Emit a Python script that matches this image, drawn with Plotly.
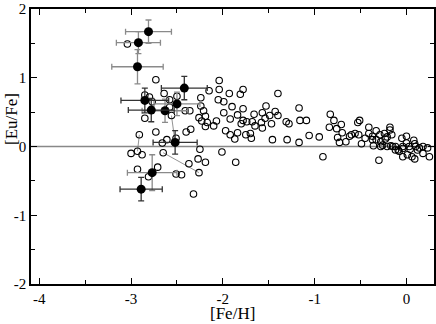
import plotly.graph_objects as go

# open circles: [Fe/H], [Eu/Fe]
open_feh = [
    -3.04, -2.73, -2.85, -2.80, -2.77, -2.85, -2.64, -2.58, -2.50, -2.56,
    -2.58, -2.41, -2.36, -2.73, -2.91, -2.66, -2.61, -2.40, -2.35, -2.15,
    -2.24, -2.24, -2.21, -2.26, -2.19, -2.23, -2.17, -2.19, -2.10, -2.07,
    -2.05, -2.04, -2.04, -2.51, -2.25,
    -3.00, -2.93, -2.88, -2.93, -2.71, -2.81, -2.65, -2.51, -2.45, -2.37,
    -2.26, -2.27, -2.19, -2.32,
    -1.99, -1.99, -1.97, -1.93, -1.92, -1.92, -1.90, -1.87, -1.84, -1.84,
    -1.81, -1.78, -1.80, -1.78, -1.78, -1.75, -1.74, -1.70, -1.69, -1.68,
    -1.66, -1.65, -1.58, -1.57, -1.57, -1.54, -1.53, -1.49, -1.47, -1.46,
    -1.43, -1.40, -1.40, -1.31, -1.30, -1.28, -1.17, -1.17, -1.16, -1.09,
    -1.06, -0.95, -0.91, -0.84, -0.83, -0.79, -0.76, -0.75, -0.73, -0.71,
    -0.70, -0.66, -0.62, -0.60, -0.56, -0.53, -0.51, -0.52, -0.49, -0.45,
    -0.41, -0.41, -0.37, -0.36, -0.33, -0.33, -0.29, -0.28, -0.26, -0.24,
    -0.23, -0.21, -0.18, -0.18, -0.16, -0.15, -0.12, -0.09, -0.05, -0.04,
    0.00, 0.00, 0.03, 0.08, 0.10, 0.14, 0.18, 0.23, -0.21, -0.28,
    -2.01, -1.86, -0.30, -0.04, 0.01, 0.06, 0.09, 0.18, 0.25, -0.04,
    -0.08, 0.04, 0.12, 0.09, -0.17, -0.12, -0.37,
]
open_eufe = [
    1.49, 0.97, 0.75, 0.72, 0.65, 0.41, 0.77, 0.68, 0.73, 0.45,
    0.57, 0.52, 0.52, 0.21, 0.17, 0.05, 0.10, 0.21, 0.25, 0.81,
    0.71, 0.59, 0.52, 0.42, 0.44, 0.37, 0.35, 0.29, 0.30, 0.37,
    0.68, 0.96, 0.83, 0.12, -0.04,
    -0.10, -0.07, -0.12, -0.33, -0.30, -0.44, -0.09, -0.40, -0.41, -0.25,
    -0.38, -0.18, -0.23, -0.69,
    0.65, 0.49, 0.23, 0.77, 0.40, 0.17, 0.58, 0.11, 0.46, 0.20,
    0.76, 0.55, 0.33, 0.83, 0.38, 0.17, 0.36, 0.19, 0.12, 0.36,
    0.47, 0.30, 0.35, 0.27, 0.49, 0.41, 0.59, 0.45, 0.33, 0.10,
    0.51, 0.45, 0.77, 0.36, 0.10, 0.33, 0.06, 0.56, 0.38, 0.38,
    0.16, 0.14, -0.15, 0.28, 0.47, 0.38, 0.26, 0.13, 0.06, 0.32,
    0.20, 0.07, 0.15, 0.17, 0.19, 0.35, 0.38, 0.17, 0.04, 0.12,
    0.28, 0.19, 0.15, 0.01, 0.23, 0.10, 0.17, 0.07, 0.02, 0.19,
    0.11, 0.14, 0.28, 0.24, 0.17, 0.00, 0.00, -0.05, 0.12, 0.00,
    0.15, 0.05, 0.00, 0.09, 0.00, -0.02, 0.00, -0.02, 0.00, 0.00,
    -0.08, -0.23, -0.20, -0.15, -0.12, -0.15, -0.18, -0.10, -0.15, -0.03,
    -0.07, -0.04, -0.05, 0.04, 0.01, -0.05, 0.10,
]

# filled circles with error bars
filled_feh = [-2.81, -2.92, -2.93, -2.42, -2.85, -2.78, -2.63, -2.50, -2.52, -2.77, -2.89]
filled_eufe = [1.67, 1.51, 1.16, 0.85, 0.67, 0.53, 0.52, 0.62, 0.06, -0.38, -0.62]
filled_xerr = [0.25, 0.24, 0.28, 0.25, 0.26, 0.25, 0.25, 0.25, 0.24, 0.27, 0.23]
filled_yerr = [0.17, 0.16, 0.25, 0.17, 0.18, 0.17, 0.17, 0.17, 0.17, 0.26, 0.17]
filled_bar = ["grey", "grey", "grey", "dark", "dark", "dark", "grey", "grey", "dark", "grey", "dark"]

# thin links between paired measurements
link_feh = [(-2.91, -2.93), (-2.65, -2.26), (-2.56, -2.52)]
link_eufe = [(0.17, -0.07), (-0.09, -0.38), (0.45, 0.06)]

x_ticks = [-4, -3, -2, -1, 0]
x_labels = ["-4", "-3", "-2", "-1", "0"]
y_ticks = [-2, -1, 0, 1, 2]
y_labels = ["-2", "-1", "0", "1", "2"]

font = "Liberation Serif"
fig = go.Figure()

for a, b in zip(link_feh, link_eufe):
    fig.add_trace(go.Scatter(x=list(a), y=list(b), mode="lines",
                             line=dict(color="#777", width=0.8), showlegend=False))

fig.add_hline(y=0, line=dict(color="#888", width=1.5), layer="below")

fig.add_trace(go.Scatter(
    x=open_feh, y=open_eufe, mode="markers",
    marker=dict(symbol="circle-open", size=6.5, color="black", line=dict(width=1.1)),
    showlegend=False,
))

bar_colors = {"grey": "#8a8a8a", "dark": "#333"}
for key, col in bar_colors.items():
    idx = [i for i, g in enumerate(filled_bar) if g == key]
    fig.add_trace(go.Scatter(
        x=[filled_feh[i] for i in idx], y=[filled_eufe[i] for i in idx],
        mode="markers",
        marker=dict(size=9, color="black"),
        error_x=dict(type="data", array=[filled_xerr[i] for i in idx],
                     color=col, thickness=1.3, width=3),
        error_y=dict(type="data", array=[filled_yerr[i] for i in idx],
                     color=col, thickness=1.3, width=3),
        showlegend=False,
    ))

axis = dict(showline=True, linecolor="black", linewidth=1.5, mirror="ticks",
            ticks="inside", ticklen=6, tickcolor="black", tickwidth=1,
            showgrid=False, zeroline=False, automargin=False,
            tickfont=dict(family=font, size=15, color="black"),
            minor=dict(ticks="inside", ticklen=4, tickcolor="black", dtick=0.5))

fig.update_xaxes(axis, range=[-4.09, 0.3], tickvals=x_ticks, ticktext=x_labels)
fig.update_yaxes(axis, range=[-2, 2], tickvals=y_ticks, ticktext=y_labels)

# axis titles placed as annotations to keep the tight frame
fig.add_annotation(text="[Fe/H]", xref="paper", yref="paper", x=0.5, y=0,
                   yshift=-18, yanchor="top", showarrow=False,
                   font=dict(family=font, size=17, color="black"))
fig.add_annotation(text="[Eu/Fe]", xref="paper", yref="paper", x=0, y=0.6,
                   xshift=-20, xanchor="center", textangle=-90, showarrow=False,
                   font=dict(family=font, size=17, color="black"))

fig.update_layout(
    width=436, height=324,
    margin=dict(l=31, r=2, t=9, b=40),
    plot_bgcolor="white", paper_bgcolor="white",
)

fig.write_html("out.html", config={"displayModeBar": False},
               post_script="document.body.style.margin = '0';")
